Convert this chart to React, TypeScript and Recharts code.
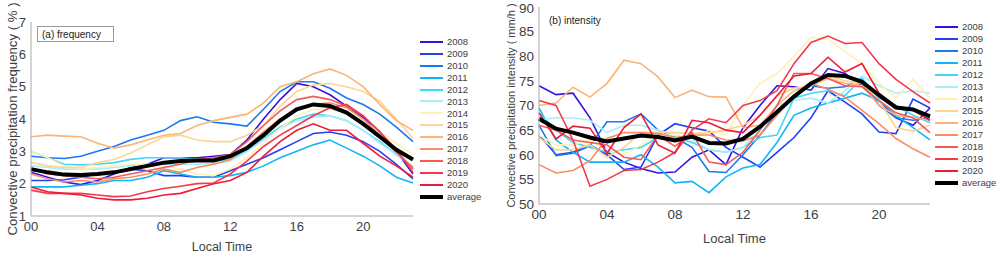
import React from "react";
import { LineChart, Line, XAxis, YAxis } from "recharts";

const hours = [0, 1, 2, 3, 4, 5, 6, 7, 8, 9, 10, 11, 12, 13, 14, 15, 16, 17, 18, 19, 20, 21, 22, 23];
const hourTicks = [0, 4, 8, 12, 16, 20];
const freqTicks = [1, 2, 3, 4, 5, 6, 7];
const intensityTicks = [50, 55, 60, 65, 70, 75, 80, 85, 90];
const years = ["2008", "2009", "2010", "2011", "2012", "2013", "2014", "2015", "2016", "2017", "2018", "2019", "2020"];
const yearColors = [
  "#3612e0", "#2240f2", "#1a78f0", "#12b6f6", "#44d6f6", "#a8eefa", "#fff0b4",
  "#fed490", "#fbb476", "#f88c62", "#f55a58", "#f23a4c", "#ee1a36",
];

// (a) frequency, %
const freq2008 = [2.35, 2.2, 2.05, 1.97, 2.1, 2.3, 2.5, 2.6, 2.8, 2.8, 2.8, 2.85, 2.9, 3.35, 4.0, 4.6, 5.1, 5.0, 4.75, 4.4, 4.05, 3.6, 3.0, 2.3];
const freq2009 = [2.1, 2.1, 2.12, 2.2, 2.3, 2.35, 2.45, 2.4, 2.25, 2.25, 2.2, 2.2, 2.4, 2.6, 2.8, 3.05, 3.3, 3.55, 3.6, 3.5, 3.3, 3.0, 2.6, 2.15];
const freq2010 = [2.85, 2.8, 2.78, 2.85, 3.0, 3.15, 3.35, 3.5, 3.65, 3.95, 4.07, 3.9, 3.85, 3.78, 4.3, 4.85, 5.15, 5.15, 4.95, 4.65, 4.45, 4.15, 3.75, 3.3];
const freq2011 = [1.9, 1.9, 1.9, 1.95, 2.0, 2.1, 2.1, 2.2, 2.4, 2.3, 2.2, 2.2, 2.25, 2.35, 2.55, 2.8, 3.0, 3.2, 3.35, 3.1, 2.85, 2.55, 2.2, 2.02];
const freq2012 = [3.0, 2.8, 2.6, 2.58, 2.6, 2.65, 2.75, 2.8, 2.8, 2.8, 2.75, 2.7, 2.75, 3.0, 3.4, 3.75, 4.0, 4.15, 4.1, 3.95, 3.65, 3.3, 2.9, 2.5];
const freq2013 = [2.55, 2.5, 2.45, 2.45, 2.45, 2.5, 2.55, 2.6, 2.6, 2.6, 2.6, 2.62, 2.7, 3.0, 3.35, 3.7, 3.95, 4.05, 4.1, 3.95, 3.65, 3.25, 2.9, 2.55];
const freq2014 = [3.0, 2.8, 2.55, 2.45, 2.5, 2.55, 2.6, 2.6, 2.55, 2.45, 2.3, 2.25, 2.45, 2.8, 3.25, 3.7, 4.1, 4.3, 4.3, 4.2, 3.95, 3.6, 3.25, 2.9];
const freq2015 = [2.65, 2.55, 2.5, 2.5, 2.65, 2.75, 2.95, 3.2, 3.45, 3.5, 3.35, 3.3, 3.3, 3.5, 3.8, 4.4, 4.85, 5.05, 5.1, 5.0, 4.85, 4.55, 4.0, 3.4];
const freq2016 = [3.45, 3.5, 3.47, 3.45, 3.25, 3.1, 3.2, 3.35, 3.5, 3.55, 3.8, 3.95, 4.05, 4.15, 4.5, 5.0, 5.15, 5.4, 5.55, 5.35, 5.0, 4.45, 3.95, 3.65];
const freq2017 = [2.3, 2.15, 2.05, 2.1, 2.05, 2.15, 2.2, 2.3, 2.45, 2.35, 2.5, 2.6, 2.75, 3.15, 3.6, 4.0, 4.3, 4.45, 4.5, 4.35, 4.0, 3.5, 2.95, 2.5];
const freq2018 = [2.45, 2.3, 2.25, 2.2, 2.15, 2.2, 2.3, 2.4, 2.5, 2.6, 2.75, 2.8, 2.9, 3.3, 3.8, 4.25, 4.6, 4.7, 4.6, 4.4, 4.1, 3.6, 3.0, 2.45];
const freq2019 = [1.8, 1.7, 1.7, 1.7, 1.65, 1.6, 1.62, 1.75, 1.85, 1.92, 2.0, 2.02, 2.3, 2.7, 3.15, 3.5, 3.8, 4.1, 4.35, 4.45, 4.1, 3.6, 3.05, 2.35];
const freq2020 = [1.9, 1.75, 1.7, 1.65, 1.55, 1.5, 1.5, 1.55, 1.65, 1.7, 1.85, 2.0, 2.1, 2.35, 2.85, 3.3, 3.65, 3.85, 3.65, 3.65, 3.25, 2.85, 2.55, 2.2];
const freqAverage = [2.45, 2.35, 2.28, 2.27, 2.3, 2.35, 2.45, 2.55, 2.65, 2.7, 2.72, 2.72, 2.85, 3.1, 3.5, 3.95, 4.3, 4.45, 4.4, 4.2, 3.85, 3.45, 3.05, 2.75];

// (b) intensity, mm/h
const int2008 = [74, 72.2, 72.5, 67.5, 60.5, 58.5, 57.2, 56.3, 56.5, 59.5, 61, 58, 65.5, 70, 74, 73.8, 73.1, 77.5, 76.5, 74, 71, 67.5, 66, 69.5];
const int2009 = [64, 60, 60.5, 62, 60, 57, 57.5, 64, 66.3, 65.5, 64.8, 61.5, 59.5, 57.5, 60.5, 63.5, 67.5, 73, 70.7, 68.3, 64.6, 64.3, 71.3, 69.5];
const int2010 = [66, 59.8, 60.3, 61.8, 66.7, 66.7, 68.3, 65, 63.5, 61.5, 56.6, 56.4, 60, 64, 68.5, 72, 74, 73.5, 73.8, 75.5, 70, 67.5, 67, 67.5];
const int2011 = [69.5, 63, 60.5, 58.5, 58.5, 58.5, 60, 57.5, 54.3, 54.6, 52.3, 55.5, 57.3, 58, 62.5, 68, 69.5, 70.5, 71.5, 72.5, 71, 68, 65.5, 63];
const int2012 = [68.5, 65, 62.5, 61.5, 60.5, 61, 61.5, 63.5, 63.5, 62.5, 61, 60.5, 61.5, 63.5, 64, 71.5, 72.5, 73, 72, 75.5, 71.5, 70, 68, 66.5];
const int2013 = [67, 67.5, 67.5, 67, 64.5, 66, 66, 65, 64, 63, 61, 60.5, 61.5, 65, 70, 71, 71.5, 70.5, 73, 76, 74, 72.5, 73, 72.5];
const int2014 = [64, 62, 62, 63, 61, 60, 62, 64, 64, 63, 65, 64, 70, 74.5, 76.5, 80, 83.8, 83.5, 81, 78.5, 74.5, 71.5, 75.3, 71.5];
const int2015 = [63.5, 61, 61, 62, 59.5, 61.5, 64.5, 64.5, 64.5, 64.3, 64.5, 65, 66, 68, 72, 73.5, 74, 76, 75, 74.5, 71, 65.5, 64.8, 66];
const int2016 = [70, 70.5, 73.7, 71.7, 74.5, 79.2, 78.5, 75.8, 71.6, 73.1, 71.8, 71.7, 65.5, 66, 70, 73, 74, 75.5, 74.5, 74, 70, 68, 67.5, 67];
const int2017 = [58, 56.3, 56.8, 58.8, 63.3, 64.5, 64.5, 64.3, 63.5, 64, 64, 63, 62.8, 64, 68, 72, 74.5, 73.3, 71.7, 69, 66.3, 63.3, 61.2, 59.5];
const int2018 = [66, 65, 63, 62.5, 62, 59.5, 59, 64, 61.7, 64.5, 58.5, 58, 60.5, 65, 70, 76.5, 76.5, 75.5, 74, 73.8, 71, 68.5, 67.5, 64.5];
const int2019 = [71, 70, 63, 53.6, 55, 56.8, 57, 58.5, 60.5, 65, 67.3, 66.5, 70, 71, 73, 78.5, 82.8, 84.1, 82.6, 82.8, 78.5, 75.3, 72.8, 70.5];
const int2020 = [68.5, 63.2, 65.8, 65.4, 60.3, 65.5, 68.3, 62, 60.3, 67, 66.5, 65, 64.5, 68, 72, 76, 76.5, 79.8, 76.8, 78.5, 72.5, 69.8, 69, 67];
const intAverage = [67.3, 65.3, 64.5, 63.5, 62.7, 63.3, 63.9, 63.6, 62.9, 63.7, 62.4, 62.3, 63.2, 65.7, 68.7, 71.8, 74.5, 76.2, 76.0, 74.8, 72.1, 69.6, 69.2, 67.8];

const freqSeries = [freq2008, freq2009, freq2010, freq2011, freq2012, freq2013, freq2014, freq2015, freq2016, freq2017, freq2018, freq2019, freq2020];
const intSeries = [int2008, int2009, int2010, int2011, int2012, int2013, int2014, int2015, int2016, int2017, int2018, int2019, int2020];

const FONT = "'Liberation Sans', Arial, sans-serif";
const FRAME = "#a9a9a9";
const TEXT = "#404040";

function buildRows(series: number[][], avg: number[]) {
  return hours.map((h, i) => {
    const row: Record<string, number> = { hour: h, average: avg[i] };
    years.forEach((y, k) => {
      row[y] = series[k][i];
    });
    return row;
  });
}

const freqData = buildRows(freqSeries, freqAverage);
const intData = buildRows(intSeries, intAverage);

// minor tick positions for the box
function steps(from: number, to: number, step: number) {
  const out: number[] = [];
  for (let v = from; v <= to + 1e-9; v += step) out.push(Math.round(v * 100) / 100);
  return out;
}

// inward ticks on all four sides + top/right border (MATLAB style box)
function boxAxes(yDomain: number[], yMajor: number[], yMinor: number[]) {
  const x = { dataKey: "hour", type: "number" as const, domain: [0, 23], allowDataOverflow: true, mirror: true, height: 0, tick: false, stroke: FRAME };
  const y = { type: "number" as const, domain: yDomain, allowDataOverflow: true, mirror: true, width: 0, tick: false, stroke: FRAME };
  return [
    <XAxis key="xb1" xAxisId="bMaj" {...x} ticks={hourTicks} tickSize={5} axisLine={false} />,
    <XAxis key="xb2" xAxisId="bMin" {...x} ticks={hours} tickSize={3} axisLine={false} />,
    <XAxis key="xt1" xAxisId="tMaj" orientation="top" {...x} ticks={hourTicks} tickSize={5} />,
    <XAxis key="xt2" xAxisId="tMin" orientation="top" {...x} ticks={hours} tickSize={3} axisLine={false} />,
    <YAxis key="yl1" yAxisId="lMaj" {...y} ticks={yMajor} tickSize={5} axisLine={false} />,
    <YAxis key="yl2" yAxisId="lMin" {...y} ticks={yMinor} tickSize={3} axisLine={false} />,
    <YAxis key="yr1" yAxisId="rMaj" orientation="right" {...y} ticks={yMajor} tickSize={5} />,
    <YAxis key="yr2" yAxisId="rMin" orientation="right" {...y} ticks={yMinor} tickSize={3} axisLine={false} />,
  ];
}

function seriesLines() {
  return [
    ...years.map((y, k) => (
      <Line
        key={y}
        xAxisId="main"
        yAxisId="main"
        dataKey={y}
        stroke={yearColors[k]}
        strokeWidth={1.6}
        dot={false}
        activeDot={false}
        isAnimationActive={false}
      />
    )),
    <Line
      key="average"
      xAxisId="main"
      yAxisId="main"
      dataKey="average"
      stroke="#000"
      strokeWidth={4}
      dot={false}
      activeDot={false}
      isAnimationActive={false}
    />,
  ];
}

function YearLegend({ left, top, rowHeight }: { left: number; top: number; rowHeight: number }) {
  const items = [...years.map((y, k) => ({ name: y, color: yearColors[k], w: 2 })), { name: "average", color: "#000", w: 4 }];
  return (
    <div style={{ position: "absolute", left, top, fontFamily: FONT, fontSize: 9.5, color: TEXT }}>
      {items.map((it) => (
        <div key={it.name} style={{ display: "flex", alignItems: "center", height: rowHeight }}>
          <div style={{ width: 23, height: it.w, background: it.color, marginRight: 4 }} />
          <span style={{ lineHeight: 1 }}>{it.name}</span>
        </div>
      ))}
    </div>
  );
}

const pad2 = (h: number) => String(h).padStart(2, "0");

function FrequencyPanel() {
  return (
    <div style={{ position: "absolute", left: 0, top: 0, width: 500, height: 254 }}>
      <LineChart width={500} height={254} data={freqData} margin={{ top: 22, right: 87, bottom: 0, left: 0 }}>
        <XAxis
          xAxisId="main"
          dataKey="hour"
          type="number"
          domain={[0, 23]}
          ticks={hourTicks}
          tickFormatter={pad2}
          height={38}
          tickSize={0}
          tickMargin={6}
          axisLine={{ stroke: FRAME }}
          tick={{ fill: TEXT, fontSize: 13, fontFamily: FONT }}
          label={{ value: "Local Time", position: "insideBottom", offset: 3, fill: TEXT, fontSize: 12.5, fontFamily: FONT }}
        />
        <YAxis
          yAxisId="main"
          type="number"
          domain={[1, 7]}
          ticks={freqTicks}
          width={31}
          tickSize={0}
          tickMargin={5}
          axisLine={{ stroke: FRAME }}
          tick={{ fill: TEXT, fontSize: 13, fontFamily: FONT }}
          label={{
            value: "Convective precipitation frequency ( % )",
            angle: -90,
            position: "insideLeft",
            offset: 12,
            fill: TEXT,
            fontSize: 13.2,
            fontFamily: FONT,
            style: { textAnchor: "middle" },
          }}
        />
        {boxAxes([1, 7], freqTicks, steps(1, 7, 0.2))}
        {seriesLines()}
      </LineChart>
      <div
        style={{
          position: "absolute",
          left: 37,
          top: 26,
          width: 77,
          height: 16,
          border: "1px solid #999",
          fontFamily: FONT,
          fontSize: 10,
          color: "#222",
          lineHeight: "16px",
          paddingLeft: 4,
          boxSizing: "border-box",
        }}
      >
        (a) frequency
      </div>
      <YearLegend left={420} top={36} rowHeight={11.9} />
    </div>
  );
}

function IntensityPanel() {
  return (
    <div style={{ position: "absolute", left: 500, top: 0, width: 496, height: 254 }}>
      <LineChart width={496} height={254} data={intData} margin={{ top: 7, right: 66, bottom: 0, left: 0 }}>
        <XAxis
          xAxisId="main"
          dataKey="hour"
          type="number"
          domain={[0, 23]}
          ticks={hourTicks}
          tickFormatter={pad2}
          height={50}
          tickSize={0}
          tickMargin={5}
          axisLine={{ stroke: FRAME }}
          tick={{ fill: TEXT, fontSize: 13.5, fontFamily: FONT }}
          label={{ value: "Local Time", position: "insideBottom", offset: 11, fill: TEXT, fontSize: 13, fontFamily: FONT }}
        />
        <YAxis
          yAxisId="main"
          type="number"
          domain={[50, 90]}
          ticks={intensityTicks}
          width={39}
          tickSize={0}
          tickMargin={5}
          axisLine={{ stroke: FRAME }}
          tick={{ fill: TEXT, fontSize: 13.5, fontFamily: FONT }}
          label={{
            value: "Convective precipitation intensity ( mm/h )",
            angle: -90,
            position: "insideLeft",
            offset: 11,
            fill: TEXT,
            fontSize: 11,
            fontFamily: FONT,
            style: { textAnchor: "middle" },
          }}
        />
        {boxAxes([50, 90], intensityTicks, steps(50, 90, 1))}
        {seriesLines()}
      </LineChart>
      <div style={{ position: "absolute", left: 49, top: 15, fontFamily: FONT, fontSize: 10, color: "#222" }}>(b) intensity</div>
      <YearLegend left={435} top={21} rowHeight={12} />
    </div>
  );
}

export default function App() {
  return (
    <div style={{ position: "absolute", left: 0, top: 0, width: 996, height: 254, background: "#fff", overflow: "hidden" }}>
      <FrequencyPanel />
      <IntensityPanel />
    </div>
  );
}
